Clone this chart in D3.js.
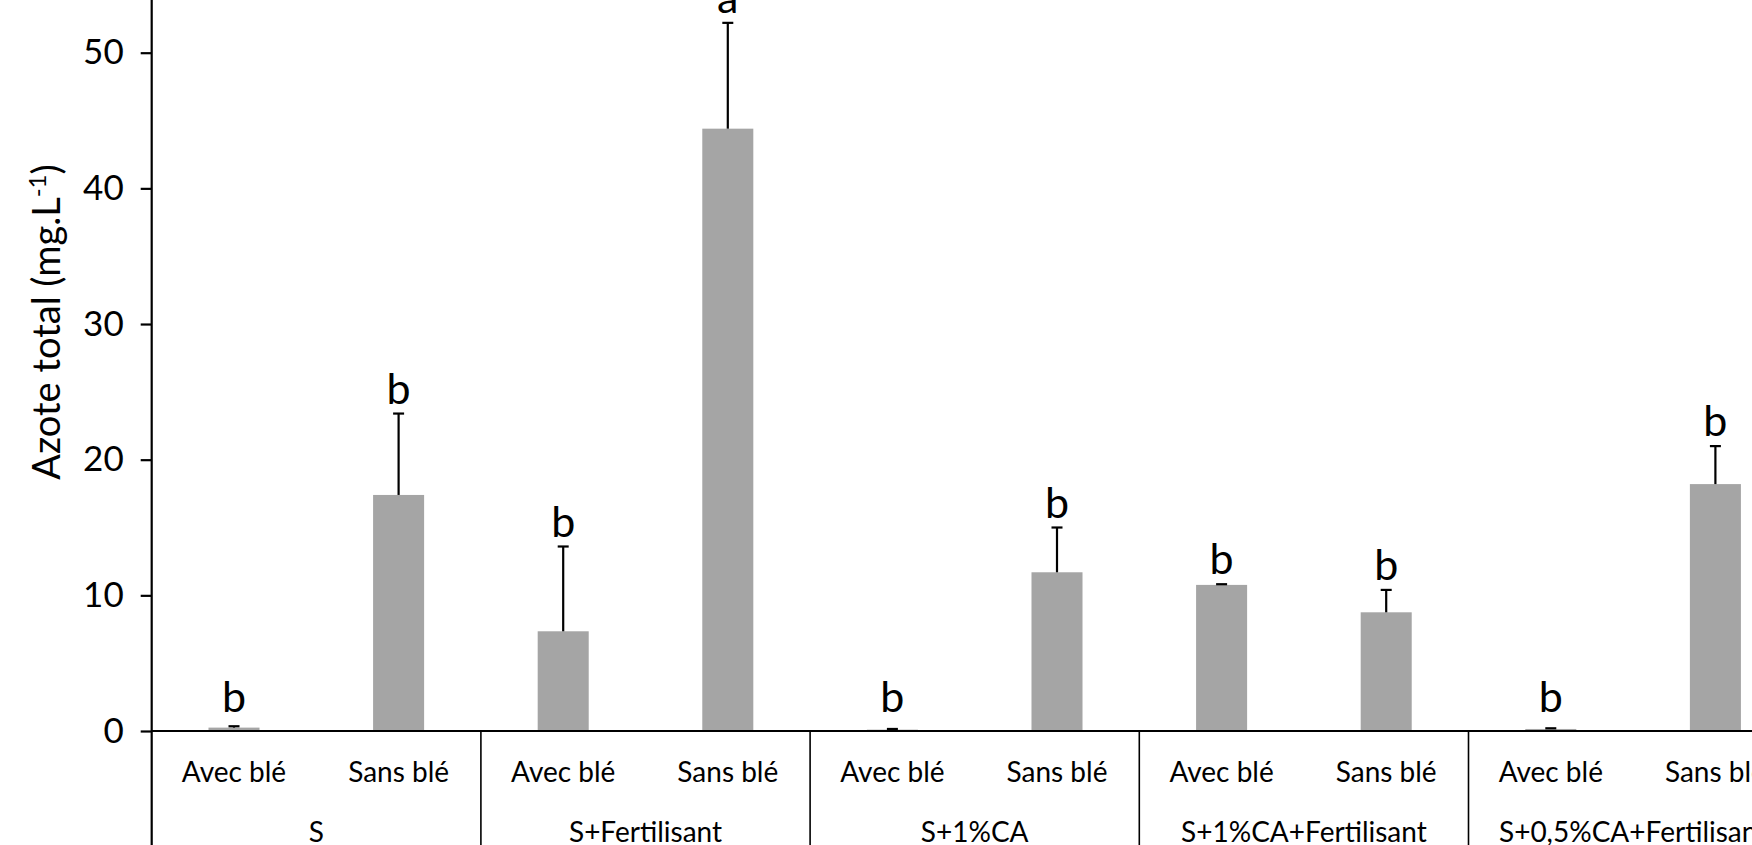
<!DOCTYPE html>
<html>
<head>
<meta charset="utf-8">
<script src="https://cdn.jsdelivr.net/npm/d3@7"></script>
<style>
  body { margin: 0; background: #fff; overflow: hidden; }
  svg { display: block; font-family: Lato, "Liberation Sans", sans-serif; }
</style>
</head>
<body>
<div id="chart"></div>
<script>
// Azote total par traitement, avec / sans blé
const groups = ["S", "S+Fertilisant", "S+1%CA", "S+1%CA+Fertilisant", "S+0,5%CA+Fertilisant"];
const subCats = ["Avec blé", "Sans blé"];
// values per group, [Avec blé, Sans blé]
const means = [[0.25, 17.4], [7.35, 44.4], [0.1, 11.7], [10.77, 8.75], [0.15, 18.2]];
const errors = [[0.1, 6.0], [6.25, 7.8], [0.05, 3.3], [0.05, 1.65], [0.05, 2.8]];
const letters = [["b", "b"], ["b", "a"], ["b", "b"], ["b", "b"], ["b", "b"]];
const yTicks = [0, 10, 20, 30, 40, 50];

const svgWidth = 1752;
const svgHeight = 845;

const axisX = 151.7;
const baseY = 731;
const groupW = 329.2;

const svg = d3.select("#chart")
  .append("svg")
  .attr("width", svgWidth)
  .attr("height", svgHeight);

// flat rows for drawing
const rows = [];
groups.forEach((g, i) => {
  subCats.forEach((s, j) => {
    rows.push({group: g, sub: s, value: means[i][j], err: errors[i][j], letter: letters[i][j]});
  });
});

const xGroup = d3.scaleBand()
  .domain(groups)
  .range([axisX, axisX + groupW * groups.length])
  .padding(0);

const xSub = d3.scaleBand()
  .domain(subCats)
  .range([0, xGroup.bandwidth()])
  .paddingInner(0.69)
  .paddingOuter(0.345);

const yScale = d3.scaleLinear()
  .domain([0, 50])
  .range([baseY, 52.7]);

const barX = d => xGroup(d.group) + xSub(d.sub);
const barMid = d => barX(d) + xSub.bandwidth() / 2;

// bars
svg.append("g")
  .selectAll("rect")
  .data(rows)
  .enter()
  .append("rect")
  .attr("x", barX)
  .attr("width", xSub.bandwidth())
  .attr("y", d => yScale(d.value))
  .attr("height", d => baseY - yScale(d.value))
  .attr("fill", "#a5a5a5");

// error bars (upper half only, like the original)
const errG = svg.append("g").attr("stroke", "#000").attr("stroke-width", 2.2);
errG.selectAll("line.stem")
  .data(rows)
  .enter()
  .append("line")
  .attr("x1", barMid)
  .attr("x2", barMid)
  .attr("y1", d => yScale(d.value))
  .attr("y2", d => yScale(d.value + d.err));
errG.selectAll("line.cap")
  .data(rows)
  .enter()
  .append("line")
  .attr("x1", d => barMid(d) - 5.5)
  .attr("x2", d => barMid(d) + 5.5)
  .attr("y1", d => yScale(d.value + d.err))
  .attr("y2", d => yScale(d.value + d.err));

// significance letters
svg.append("g")
  .selectAll("text")
  .data(rows)
  .enter()
  .append("text")
  .attr("x", barMid)
  .attr("y", d => Math.min(yScale(d.value + d.err) - 10, 712))
  .attr("text-anchor", "middle")
  .attr("font-size", "43px")
  .attr("fill", "#000")
  .text(d => d.letter);

// y axis
const leftAxis = d3.axisLeft(yScale)
  .tickValues(yTicks)
  .tickSize(11)
  .tickPadding(17);

const yAxisG = svg.append("g")
  .attr("transform", `translate(${axisX},0)`)
  .call(leftAxis);
yAxisG.select(".domain").remove();
yAxisG.selectAll(".tick line").attr("stroke", "#000").attr("stroke-width", 2.2);
yAxisG.selectAll(".tick text")
  .attr("font-family", "Lato, sans-serif")
  .attr("font-size", "35px")
  .attr("fill", "#000");

svg.append("line")
  .attr("x1", axisX).attr("x2", axisX)
  .attr("y1", 0).attr("y2", svgHeight)
  .attr("stroke", "#000")
  .attr("stroke-width", 2.2);

// baseline
svg.append("line")
  .attr("x1", axisX).attr("x2", svgWidth)
  .attr("y1", baseY).attr("y2", baseY)
  .attr("stroke", "#000")
  .attr("stroke-width", 2);

// group dividers below the axis
svg.append("g")
  .selectAll("line")
  .data(groups.slice(1))
  .enter()
  .append("line")
  .attr("x1", d => xGroup(d))
  .attr("x2", d => xGroup(d))
  .attr("y1", baseY)
  .attr("y2", svgHeight)
  .attr("stroke", "#000")
  .attr("stroke-width", 1.6);

// sub category labels
svg.append("g")
  .selectAll("text")
  .data(rows)
  .enter()
  .append("text")
  .attr("x", barMid)
  .attr("y", 782)
  .attr("text-anchor", "middle")
  .attr("font-size", "28px")
  .attr("fill", "#000")
  .text(d => d.sub);

// group labels
svg.append("g")
  .selectAll("text")
  .data(groups)
  .enter()
  .append("text")
  .attr("x", d => xGroup(d) + xGroup.bandwidth() / 2)
  .attr("y", 842)
  .attr("text-anchor", "middle")
  .attr("font-size", "28px")
  .attr("fill", "#000")
  .text(d => d);

// y axis title
const yTitle = svg.append("text")
  .attr("transform", "translate(60,322) rotate(-90)")
  .attr("text-anchor", "middle")
  .attr("font-size", "38px")
  .attr("fill", "#000");
yTitle.append("tspan").text("Azote total (mg.L");
yTitle.append("tspan").attr("font-size", "24px").attr("dy", "-14").text("-1");
yTitle.append("tspan").attr("dy", "14").text(")");
</script>
</body>
</html>
